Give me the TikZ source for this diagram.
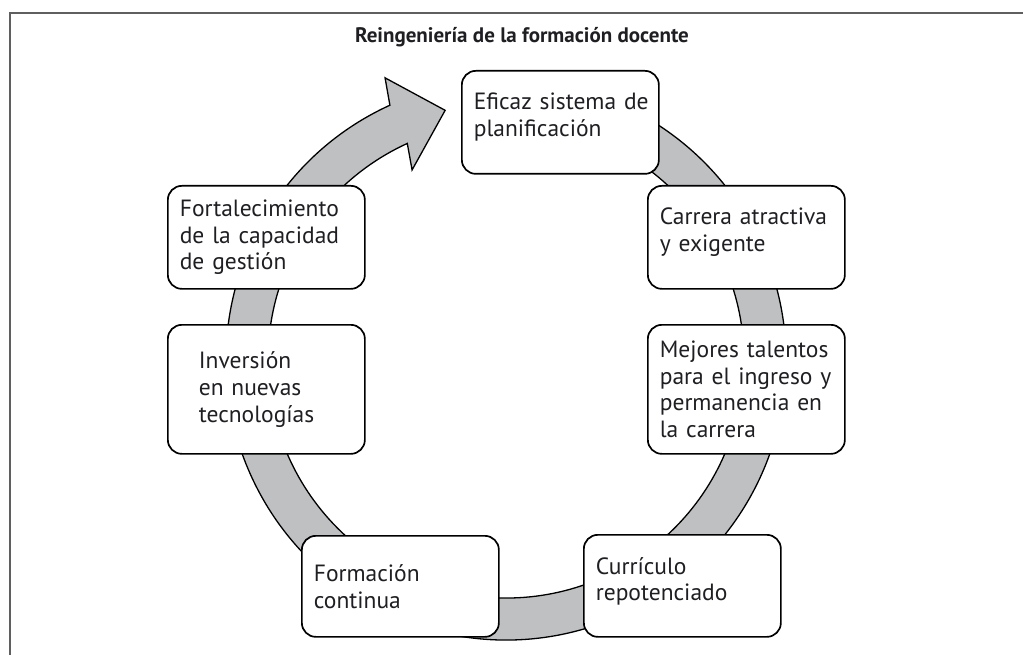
\documentclass[tikz,border=0pt]{standalone}
\usepackage{fontspec}
\setmainfont{PT Sans}
\definecolor{ringgray}{RGB}{191,192,194}
\definecolor{framecol}{RGB}{95,95,95}
\definecolor{textcol}{RGB}{30,30,35}
\newcommand{\jl}[1]{\makebox[\linewidth][s]{#1}}
\begin{document}
\begin{tikzpicture}[x=1pt,y=-1pt,
  box/.style={draw=black, line width=1.7pt, rounded corners=14pt, fill=white,
    anchor=north west, inner xsep=12pt, inner ysep=0pt, text width=173pt,
    align=left, minimum width=197pt, text=textcol,
    font=\fontsize{23.5}{26.7}\selectfont},
  ring/.style={fill=ringgray, draw=black, line width=1.3pt},
  framestyle/.style={draw=framecol, line width=1.3pt}
]
\useasboundingbox (0,0) rectangle (1023,655);
\draw[framestyle] (10,655) -- (10,13) -- (1023,13);
\node[font=\bfseries\fontsize{21}{24}\selectfont, text=textcol] (title) at (522,37) {Reingeniería de la formación docente};
\begin{scope}[shift={(506,360)}, yscale=-1]
\path[ring] (114.5:280) arc[start angle=114.5, end angle=440, radius=280]
  -- (440:238) arc[start angle=440, end angle=114.5, radius=238]
  -- (116.3:212) -- (103.7:257) -- (113.2:307) -- cycle;
\end{scope}
\node[box, minimum height=103pt] (plan) at (461,70)
  {\jl{Eficaz sistema de}\\planificación\par\vspace{10pt}};
\node[box, minimum height=103pt] (carrera) at (647,185)
  {\jl{Carrera atractiva}\\y exigente\par\vspace{10pt}};
\node[box, minimum height=129pt] (talentos) at (647,324)
  {\jl{Mejores talentos}\\\jl{para el ingreso y}\\\jl{permanencia en}\\la carrera};
\node[box, minimum height=102pt] (curriculo) at (583,534)
  {Currículo\\repotenciado\par\vspace{9pt}};
\node[box, minimum height=101pt] (formacion) at (301,535)
  {Formación\\continua};
\node[box, minimum height=129pt] (inversion) at (167,324)
  {\hspace*{19pt}Inversión\\\hspace*{19pt}en nuevas\\\hspace*{19pt}tecnologías};
\node[box, minimum height=103pt] (gestion) at (167,185)
  {\jl{Fortalecimiento}\\\jl{de la capacidad}\\de gestión};
\end{tikzpicture}
\end{document}
